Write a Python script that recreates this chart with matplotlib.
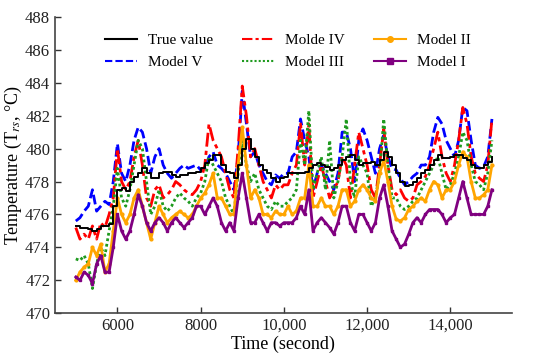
import numpy as np
import matplotlib.pyplot as plt

plt.rcParams['font.family'] = ['Liberation Serif', 'DejaVu Serif']
plt.rcParams['mathtext.fontset'] = 'stix'

# time axis, one reading every 100 s
time_s = np.arange(5000, 15001, 100)

true_value = [
    475.3, 475.2, 475.2, 475.1, 475.0, 475.1, 475.3, 475.3, 475.4, 476.5,
    477.5, 477.6, 477.4, 478.0, 478.3, 478.5, 478.8, 478.5, 478.2, 478.2,
    478.5, 478.6, 478.6, 478.4, 478.3, 478.4, 478.4, 478.5, 478.5, 478.6,
    478.8, 479.1, 479.3, 479.6, 479.6, 479.0, 478.6, 478.5, 478.2, 479.0,
    480.0, 480.6, 480.0, 479.5, 479.0, 478.7, 478.5, 478.2, 478.0, 478.2,
    478.3, 478.5, 478.5, 478.5, 478.5, 478.6, 478.8, 479.0, 479.1, 479.0,
    478.9, 478.7, 478.8, 479.0, 479.3, 479.5, 479.6, 479.3, 479.0, 479.1,
    479.1, 479.2, 479.0, 479.3, 479.8, 479.5, 479.0, 478.5, 478.0, 477.7,
    477.8, 478.0, 478.2, 478.5, 478.7, 479.0, 479.3, 479.6, 479.4, 479.4,
    479.5, 479.6, 479.6, 479.4, 479.3, 479.0, 478.8, 478.8, 479.0, 479.2,
    479.5,
]
model_v = [
    475.6, 475.8, 476.2, 476.5, 477.5, 476.2, 476.5, 476.8, 476.6, 478.0,
    480.3, 478.5, 478.0, 479.0, 480.5, 481.3, 481.0, 480.0, 478.5, 479.5,
    480.0, 479.0, 478.5, 478.2, 478.5, 478.8, 479.0, 478.8, 478.9, 479.0,
    478.7, 478.8, 479.5, 479.8, 479.0, 478.8, 478.5, 478.0, 477.5, 479.5,
    483.5, 481.5, 479.5, 479.8, 479.0, 478.5, 478.0, 477.8, 478.4, 478.2,
    478.5, 478.5, 479.5, 479.8, 481.8, 480.5, 479.5, 477.5, 478.5, 479.0,
    478.5, 478.0, 477.5, 478.5, 481.0, 481.0, 480.0, 478.0, 480.5, 481.2,
    480.5, 479.5, 478.5, 480.0, 480.8, 479.5, 478.8, 478.7, 478.2, 477.8,
    478.0, 478.3, 478.5, 479.0, 479.0, 479.5, 481.0, 481.9, 481.5, 480.5,
    480.0, 479.5, 480.5, 482.5, 482.3, 480.5, 479.0, 478.8, 478.9, 479.5,
    481.8,
]
model_iv = [
    475.2, 474.5, 474.8, 474.5, 475.3, 474.5, 475.5, 475.2, 476.0, 477.0,
    480.0, 478.0, 477.5, 478.0, 479.5, 480.5, 479.0, 477.0, 476.5, 477.5,
    477.8, 477.0, 477.2, 477.5, 478.0, 477.8, 477.5, 477.3, 477.2, 477.5,
    478.0, 479.0, 481.5, 480.5, 480.0, 479.5, 478.5, 477.5, 477.0, 480.0,
    483.8, 482.0, 479.5, 480.0, 479.0, 478.0, 477.5, 477.0, 477.8, 477.5,
    477.8, 477.8, 478.5, 479.0, 481.5, 479.0, 481.5, 477.0, 478.0, 479.0,
    478.0, 477.0, 477.5, 478.0, 479.5, 479.0, 477.0, 479.0, 481.0, 480.0,
    479.0, 477.5, 477.0, 479.0, 481.2, 479.0, 477.5, 477.2, 477.5, 477.0,
    476.8, 477.0, 477.8, 478.0, 478.3, 479.0, 480.0, 481.0, 479.5, 478.5,
    478.0, 479.0, 480.5, 482.5, 481.5, 479.5, 478.5, 478.2, 478.0, 479.0,
    481.8,
]
model_iii = [
    473.3, 473.2, 473.5, 473.0, 471.5, 473.0, 474.0, 473.5, 475.0, 476.5,
    478.8, 477.0, 476.5, 477.5, 479.0, 480.5, 480.0, 478.0, 476.0, 476.5,
    477.5, 476.5, 476.2, 476.5, 477.0, 477.3, 477.0, 476.8, 476.5, 477.0,
    477.3, 478.0, 479.5, 479.0, 478.5, 478.0, 477.0, 476.5, 476.0, 478.5,
    480.5, 479.0, 478.0, 478.5, 477.5, 477.0, 476.5, 476.3, 476.8, 476.5,
    476.5, 476.8, 477.0, 477.5, 480.5, 479.0, 482.3, 477.5, 478.5, 479.5,
    477.5, 480.5, 477.0, 478.0, 479.5, 481.8, 478.0, 477.0, 479.5, 479.0,
    478.5, 476.5, 477.0, 478.5, 481.8, 479.0, 477.0, 477.0, 476.5, 476.3,
    476.5, 476.8, 477.0, 477.5, 478.0, 478.5, 479.0, 479.5, 478.5, 477.5,
    477.8, 478.5, 479.5, 481.0, 480.5, 479.0, 478.0, 477.8, 477.5, 478.5,
    480.5,
]
model_ii = [
    472.0, 472.5, 472.8, 473.0, 474.0, 473.5, 474.2, 472.5, 473.0, 475.0,
    477.0, 476.0, 475.5, 476.0, 477.0, 477.5, 476.5, 475.5, 474.5, 475.5,
    476.5, 476.0, 475.5, 475.8, 476.0, 476.2, 476.0, 475.8, 476.0, 476.5,
    477.0, 477.3, 477.8, 478.5, 477.0, 477.0, 476.5, 476.0, 476.0, 479.0,
    481.3, 479.0, 477.0, 477.5, 477.0, 476.0, 476.0, 475.8, 476.2, 476.0,
    476.0, 476.5, 476.0, 476.2, 477.0, 477.0, 479.0, 476.5, 476.5, 477.0,
    476.5, 476.5, 476.0, 476.5, 477.5, 477.5, 476.5, 476.8, 477.5, 477.8,
    477.5, 477.0, 476.8, 478.5, 479.3, 478.0, 476.5, 475.7, 475.6, 475.8,
    476.3, 476.5, 476.8, 477.0, 476.8, 477.5, 478.0, 477.8, 477.0, 477.5,
    477.5, 478.0, 479.0, 479.8, 479.5, 478.0, 477.0, 477.0, 477.2, 477.5,
    479.0,
]
model_i = [
    472.2, 472.0, 472.5, 472.3, 471.8, 473.0, 473.5, 472.5, 472.5, 474.0,
    476.0, 475.0, 474.5, 475.0, 476.0, 477.2, 476.5, 475.5, 475.0, 475.5,
    475.8, 475.5, 475.0, 475.5, 475.8, 475.5, 475.2, 475.5, 475.8, 476.5,
    476.5, 476.0, 476.5, 477.0, 476.5, 475.5, 475.0, 475.5, 475.0, 477.0,
    478.5, 477.0, 475.5, 475.5, 476.0, 475.5, 475.0, 475.5, 475.5, 475.3,
    475.5, 475.5, 475.5, 475.8, 476.5, 476.0, 477.5, 475.0, 475.5, 475.8,
    475.5, 475.2, 474.8, 475.5, 476.5, 476.5, 475.5, 475.0, 476.0, 476.0,
    475.5, 475.0, 475.5, 477.0, 477.8, 476.5, 475.0, 474.5, 474.0, 474.2,
    474.8, 475.5, 475.8, 475.5, 476.0, 476.3, 476.3, 476.3, 476.0, 475.5,
    475.8, 476.0, 477.0, 478.0, 477.0, 476.0, 476.0, 476.0, 476.0, 476.5,
    477.5,
]

fig = plt.figure(figsize=(5.5, 3.6), dpi=100)
ax = fig.add_axes([0.10, 0.13, 0.83, 0.823])

h_true, = ax.plot(time_s, true_value, color='black', lw=1.4, drawstyle='steps-post', label='True value', zorder=7)
h_v, = ax.plot(time_s, model_v, color='#0000ff', lw=2.0, ls=(0, (3.5, 1.5)), label='Model V', zorder=2)
h_iv, = ax.plot(time_s, model_iv, color='#ff0000', lw=2.0, ls=(0, (5, 1.5, 1.5, 1.5)), label='Molde IV', zorder=3)
h_iii, = ax.plot(time_s, model_iii, color='#1e9a1e', lw=2.0, ls=(0, (1, 1)), label='Model III', zorder=4)
h_ii, = ax.plot(time_s, model_ii, color='#ffa500', lw=2.0, marker='o', ms=2, label='Model II', zorder=5)
h_i, = ax.plot(time_s, model_i, color='#800080', lw=2.0, marker='s', ms=2, label='Model I', zorder=6)

ax.set_xlim(4500, 15470)
ax.set_ylim(470, 488)
ax.set_yticks(np.arange(470, 489, 2))
ax.set_xticks([6000, 8000, 10000, 12000, 14000])
ax.set_xticklabels(['6000', '8000', '10,000', '12,000', '14,000'])
ax.tick_params(direction='in', labelsize=12, width=1, length=4, colors='#333333', labelcolor='#222222')
for side in ['top', 'right']:
    ax.spines[side].set_visible(False)
for side in ['left', 'bottom']:
    ax.spines[side].set_linewidth(1.2)
    ax.spines[side].set_color('#444444')

ax.set_xlabel('Time (second)', fontsize=13, labelpad=1)
ax.set_ylabel(r'Temperature (T$_{rs}$, °C)', fontsize=13, labelpad=1)

legend_handles = [h_true, h_v, h_iv, h_iii, h_ii, h_i]
leg = ax.legend(handles=legend_handles, ncol=3, frameon=False, fontsize=11,
                loc='upper left', bbox_to_anchor=(0.08, 0.99), handlelength=2.1,
                columnspacing=1.9, handletextpad=0.7, labelspacing=0.55,
                markerscale=2.0)
for lh in leg.get_lines():
    lh.set_linewidth(1.5)

fig.savefig('out.png', dpi=100)
